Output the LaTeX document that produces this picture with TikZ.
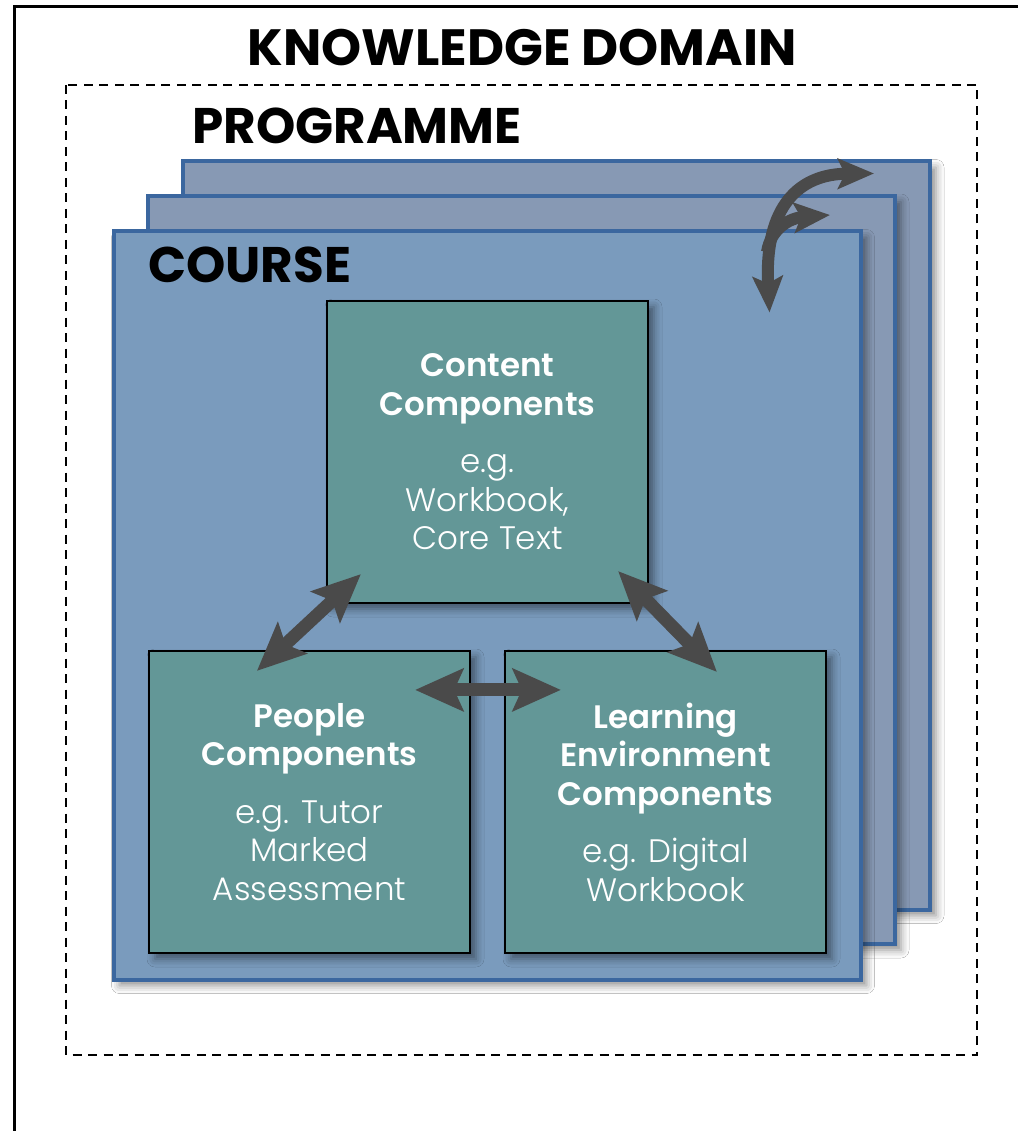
\documentclass[tikz,border=0pt]{standalone}
\usepackage{fontspec}
\newfontfamily\titlefont{Poppins Bold}
\newfontfamily\boxbold{Poppins SemiBold}
\newfontfamily\boxlight{Poppins Light}
\usetikzlibrary{arrows.meta,calc,shadows.blur}
\definecolor{layerback}{HTML}{8799B4}
\definecolor{layerfront}{HTML}{7A9BBD}
\definecolor{layeredge}{HTML}{3B679F}
\definecolor{compfill}{HTML}{639797}
\definecolor{arrowgrey}{HTML}{4A4A4A}
\begin{document}
\begin{tikzpicture}[x=1pt,y=-1pt,
  softshadow/.style={blur shadow={shadow xshift=6pt, shadow yshift=-6pt, shadow blur radius=8pt, shadow opacity=45}},
  layer/.style={draw=layeredge, line width=4pt, minimum width=747pt, minimum height=748pt, inner sep=0pt, softshadow},
  comp/.style={draw=black, line width=2.2pt, fill=compfill, minimum width=321pt, minimum height=302pt,
    inner sep=0pt, align=center, text=white, font=\boxlight\fontsize{32.5}{38.5}\selectfont, softshadow},
  heading/.style={font=\titlefont\fontsize{50}{50}\selectfont, inner sep=0pt},
  link/.style={draw=arrowgrey, line width=13pt, {Stealth[length=48pt,width=42pt,inset=9pt]}-{Stealth[length=48pt,width=42pt,inset=9pt]}},
  turn/.style={draw=arrowgrey, line width=12pt}
]
\useasboundingbox (0,0) rectangle (1018,1131);
\fill[white] (0,0) rectangle (1018,1131);

% outer frame of the knowledge domain
\draw[line width=3pt] (14,1131) -- (14,7) -- (1018,7);
\node[heading, font=\titlefont\fontsize{51}{51}\selectfont, anchor=base] (domain) at (522,66) {KNOWLEDGE DOMAIN};

% programme boundary
\draw[line width=2.5pt, dash pattern=on 9pt off 6.5pt] (66,85) rectangle (977,1055);
\node[heading, anchor=base west] (programme) at (192,144) {PROGRAMME};

% stacked course layers
\node[layer, fill=layerback] (back) at (556.5,535.5) {};
\node[layer, fill=layerback] (middle) at (521.5,570) {};
\node[layer, fill=layerfront] (front) at (487,605.5) {};
\node[heading, anchor=base west] (course) at (148,283) {COURSE};

% component boxes
\node[comp] (content) at (487.5,452)
  {\boxbold Content\\\boxbold Components\\[19pt]\boxlight e.g.\\\boxlight Workbook,\\\boxlight Core Text};
\node[comp] (people) at (309.5,802)
  {\boxbold People\\\boxbold Components\\[19pt]\boxlight e.g. Tutor\\\boxlight Marked\\\boxlight Assessment};
\node[comp] (learning) at (665.5,802)
  {\boxbold Learning\\\boxbold Environment\\\boxbold Components\\[19pt]\boxlight e.g. Digital\\\boxlight Workbook};

% links between components
\draw[link] ($(people.north west)+(109,21)$) -- ($(content.south west)+(35,-30)$);
\draw[link] ($(content.south east)+(-31,-33)$) -- ($(learning.north west)+(213,22)$);
\draw[link] ($(people.north east)+(-56,40)$) -- ($(learning.north west)+(57,40)$);

% links between course layers
\draw[turn, {Stealth[length=36pt,width=30pt,inset=7pt]}-{Stealth[length=36pt,width=30pt,inset=7pt]}]
  ($(front.north east)+(-93,83)$) .. controls (764,205) and (800,174) .. ($(back.north east)+(-58,14)$);
\draw[turn, -{Stealth[length=36pt,width=30pt,inset=7pt]}]
  (767,252) .. controls (771,228) and (790,218) .. ($(middle.north east)+(-67,21)$);
\end{tikzpicture}
\end{document}
